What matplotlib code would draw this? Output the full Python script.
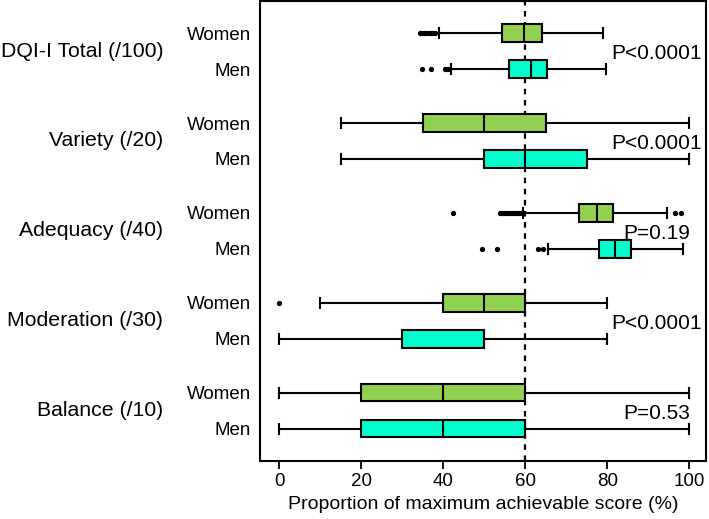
import matplotlib
matplotlib.use("Agg")
import matplotlib.pyplot as plt

plt.rcParams['font.family'] = ['Liberation Sans', 'DejaVu Sans']

# ---- data ----
components = ["DQI-I Total (/100)", "Variety (/20)", "Adequacy (/40)", "Moderation (/30)", "Balance (/10)"]
sexes = ["Women", "Men"]
p_values = ["P<0.0001", "P<0.0001", "P=0.19", "P<0.0001", "P=0.53"]

# five-number summaries per component: [Women, Men]
whisker_low = [[39.0, 42.0], [15, 15], [59.5, 65.6], [10, 0], [0, 0]]
q1          = [[54.3, 56.1], [35, 50], [73.1, 78.0], [40, 30], [20, 20]]
median      = [[59.6, 61.5], [50, 60], [77.4, 82.0], [50, 50], [40, 40]]
q3          = [[64.2, 65.4], [65, 75], [81.5, 85.9], [60, 50], [60, 60]]
whisker_high= [[79.0, 79.6], [100, 100], [94.5, 98.4], [80, 80], [100, 100]]
outliers = [
    [[34.4, 34.9, 35.4, 35.9, 36.4, 36.9, 37.4, 37.9], [34.7, 37.1, 40.4, 40.9, 41.4]],
    [[], []],
    [[42.4, 53.9, 54.4, 54.9, 55.4, 55.9, 56.4, 56.9, 57.4, 57.9, 58.4, 58.9, 96.5, 98.1],
     [49.4, 53.0, 63.2, 64.4]],
    [[0.0], []],
    [[], []],
]
reference_line = 60

colors = {"Women": "#92D050", "Men": "#00FFCC"}

fig = plt.figure(figsize=(7.09, 5.19), dpi=100)
ax = fig.add_axes([0.3674, 0.1118, 0.629, 0.8863])

positions, labels = [], []
for g, comp in enumerate(components):
    for s, sex in enumerate(sexes):
        pos = g + (-0.2 if s == 0 else 0.2)
        stats = [dict(whislo=whisker_low[g][s], q1=q1[g][s], med=median[g][s],
                      q3=q3[g][s], whishi=whisker_high[g][s], fliers=outliers[g][s])]
        ax.bxp(stats, positions=[pos], vert=False, widths=0.19, capwidths=0.11,
               patch_artist=True, manage_ticks=False,
               boxprops=dict(facecolor=colors[sex], edgecolor='black', linewidth=1.5),
               medianprops=dict(color='black', linewidth=1.5),
               whiskerprops=dict(color='black', linewidth=1.5),
               capprops=dict(color='black', linewidth=1.5),
               flierprops=dict(marker='o', markersize=2.8, markerfacecolor='black',
                               markeredgecolor='black', linestyle='none'))
        positions.append(pos)
        labels.append(sex)
    ax.annotate(comp, xy=(0, g), xycoords=('axes fraction', 'data'),
                xytext=(-97, 0), textcoords='offset pixels',
                ha='right', va='center', fontsize=15.3)
    ax.text(92, g + (0.03 if p_values[g] == "P=0.19" else 0.03), p_values[g],
            ha='center', va='center', fontsize=15)

ax.axvline(reference_line, color='black', linestyle=(0, (2.5, 2.5)), linewidth=1.6, zorder=0)

ax.set_yticks(positions)
ax.set_yticklabels(labels, fontsize=13.5)
ax.tick_params(axis='y', length=0, pad=7)
ax.set_ylim(4.556, -0.556)

ax.set_xlim(-4.6, 104.2)
ax.set_xticks([0, 20, 40, 60, 80, 100])
ax.tick_params(axis='x', labelsize=13.5, length=6, width=1.3, pad=3)
ax.set_xlabel("Proportion of maximum achievable score (%)", fontsize=14, labelpad=4)

for sp in ax.spines.values():
    sp.set_linewidth(1.5)

fig.savefig("out.png", dpi=100)
